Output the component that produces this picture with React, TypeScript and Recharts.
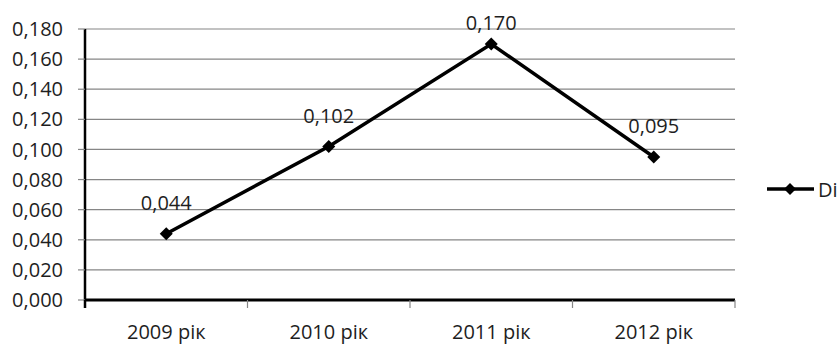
import React from 'react';
import { LineChart, Line, XAxis, YAxis, CartesianGrid, Legend, LabelList } from 'recharts';

const years = ['2009 рік', '2010 рік', '2011 рік', '2012 рік'];
const diValues = [0.044, 0.102, 0.17, 0.095];
const yTicks = [0, 0.02, 0.04, 0.06, 0.08, 0.1, 0.12, 0.14, 0.16, 0.18];
const seriesName = 'Di';

const data = years.map((year, i) => ({ year, Di: diValues[i] }));

const FONT = '"Open Sans", sans-serif';
const FS = 20;
const TEXT = '#1e1e1e';
const GRID = '#868686';

const W = 837;
const H = 347;
const MARGIN = { top: 29, right: 102, bottom: 0, left: 0 };
const Y_AXIS_W = 85;
const band = (W - MARGIN.left - MARGIN.right - Y_AXIS_W) / years.length;

const fmt = (v: number) => v.toFixed(3).replace('.', ',');

const Diamond = (props: any) => {
  const { cx, cy, index } = props;
  if (cx == null || cy == null) return null;
  const r = 6.5;
  return (
    <polygon
      key={`d-${index}`}
      points={`${cx},${cy - r} ${cx + r},${cy} ${cx},${cy + r} ${cx - r},${cy}`}
      fill="#000"
    />
  );
};

const PointLabel = (props: any) => {
  const { x, y, value } = props;
  // keep the label inside the plot like Excel does near the top
  const cy = Math.max(y - 31, 22);
  return (
    <text x={x} y={cy} textAnchor="middle" dominantBaseline="central" fontFamily={FONT} fontSize={FS} fill={TEXT}>
      {fmt(value)}
    </text>
  );
};

// category label plus Excel-style tick marks on the category boundaries
const CategoryTick = (props: any) => {
  const { x, y, payload, index } = props;
  const axisY = y - 25;
  const left = x - band / 2;
  const right = x + band / 2;
  return (
    <g>
      <line
        x1={left}
        x2={left}
        y1={axisY}
        y2={axisY + 8}
        stroke={index === 0 ? '#000' : GRID}
        strokeWidth={index === 0 ? 2.5 : 1.2}
      />
      {index === years.length - 1 && (
        <line x1={right} x2={right} y1={axisY} y2={axisY + 8} stroke={GRID} strokeWidth={1.2} />
      )}
      <text x={x} y={axisY + 31} textAnchor="middle" dominantBaseline="central" fontFamily={FONT} fontSize={FS} fill={TEXT}>
        {payload.value}
      </text>
    </g>
  );
};

const LegendContent = () => (
  <svg width={80} height={30}>
    <line x1={7} x2={54} y1={14} y2={14} stroke="#000" strokeWidth={3.5} />
    <polygon points="30,8 36,14 30,20 24,14" fill="#000" />
    <text x={58} y={14} dominantBaseline="central" fontFamily={FONT} fontSize={FS} fill={TEXT}>
      {seriesName}
    </text>
  </svg>
);

export default function App() {
  return (
    <div style={{ position: 'absolute', left: 0, top: 0, background: '#fff' }}>
      <LineChart width={W} height={H} data={data} margin={MARGIN}>
        <CartesianGrid vertical={false} stroke={GRID} strokeWidth={1.2} />
        <XAxis
          dataKey="year"
          scale="band"
          height={47}
          interval={0}
          axisLine={{ stroke: '#000', strokeWidth: 3 }}
          tickLine={false}
          tickSize={0}
          tickMargin={25}
          tick={<CategoryTick />}
        />
        <YAxis
          width={Y_AXIS_W}
          domain={[0, 0.18]}
          ticks={yTicks}
          interval={0}
          tickFormatter={fmt}
          axisLine={{ stroke: '#000', strokeWidth: 2.5 }}
          tickLine={{ stroke: GRID, strokeWidth: 1.2 }}
          tickSize={7}
          tickMargin={15}
          tick={{ fontFamily: FONT, fontSize: FS, fill: TEXT }}
        />
        <Legend
          verticalAlign="middle"
          align="center"
          wrapperStyle={{ left: 760, top: 175, width: 80 }}
          content={<LegendContent />}
        />
        <Line
          dataKey="Di"
          name={seriesName}
          stroke="#000"
          strokeWidth={3.5}
          dot={Diamond}
          activeDot={false}
          isAnimationActive={false}
        >
          <LabelList dataKey="Di" content={<PointLabel />} />
        </Line>
      </LineChart>
    </div>
  );
}
